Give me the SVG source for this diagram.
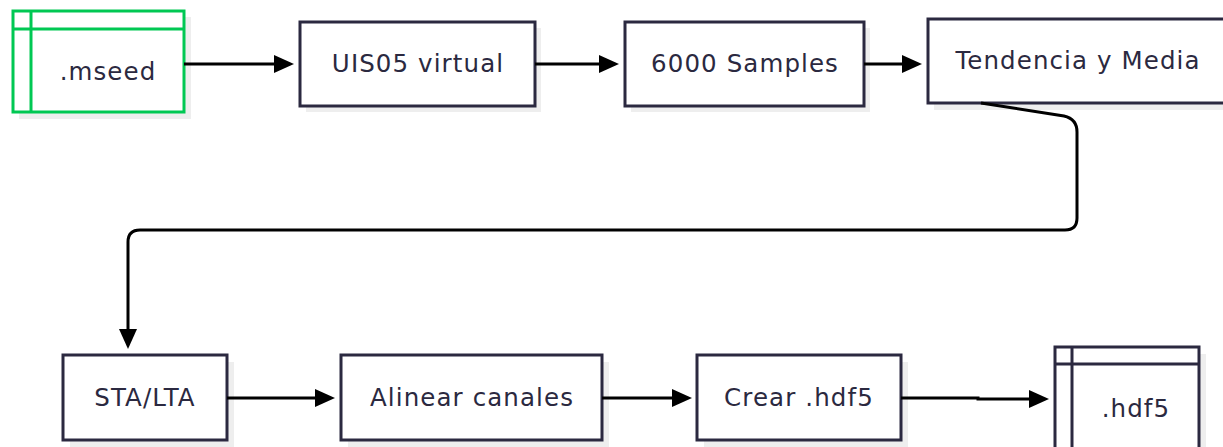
<svg xmlns="http://www.w3.org/2000/svg" width="1223" height="447" viewBox="0 0 1223 447">
<defs>
<style>
.box{fill:#fff;stroke:#2b2940;stroke-width:3}
.db{fill:#fff;stroke:#2b2940;stroke-width:3}
.green{stroke:#00c853}
.sh{fill:#eeeeee}
.t{font-family:"DejaVu Sans",sans-serif;font-size:24.5px;letter-spacing:1.1px;fill:#2b2940;text-anchor:middle;dominant-baseline:central}
.c{fill:none;stroke:#000;stroke-width:3}
</style>
<marker id="arr" viewBox="0 0 20 20" refX="0" refY="10" markerWidth="20" markerHeight="20" orient="auto" markerUnits="userSpaceOnUse">
<path d="M0,1 L20,10 L0,19 z" fill="#000"/>
</marker>
</defs>
<g id="n-mseed">
<rect class="sh" x="19" y="17" width="172" height="102"/>
<rect class="db green" x="13" y="11" width="171" height="101"/>
<line class="green" x1="13" y1="29" x2="184" y2="29" stroke-width="3"/>
<line class="green" x1="31" y1="11" x2="31" y2="112" stroke-width="3"/>
<text class="t" x="108" y="71">.mseed</text>
</g>
<g id="n-uis05">
<rect class="sh" x="306" y="28" width="235" height="84"/>
<rect class="box" x="300" y="22" width="235" height="84"/>
<text class="t" x="418" y="63">UIS05 virtual</text>
</g>
<g id="n-samples">
<rect class="sh" x="631" y="28" width="239" height="84"/>
<rect class="box" x="625" y="22" width="239" height="84"/>
<text class="t" x="745" y="63">6000 Samples</text>
</g>
<g id="n-tendencia">
<rect class="sh" x="934" y="26" width="300" height="84"/>
<rect class="box" x="928" y="19" width="300" height="84"/>
<text class="t" x="1078" y="60">Tendencia y Media</text>
</g>
<g id="n-stalta">
<rect class="sh" x="70" y="362" width="164" height="85"/>
<rect class="box" x="63" y="355" width="164" height="85"/>
<text class="t" x="145" y="397">STA/LTA</text>
</g>
<g id="n-alinear">
<rect class="sh" x="348" y="362" width="261" height="85"/>
<rect class="box" x="341" y="355" width="261" height="85"/>
<text class="t" x="472" y="397">Alinear canales</text>
</g>
<g id="n-crear">
<rect class="sh" x="704" y="362" width="204" height="85"/>
<rect class="box" x="697" y="355" width="204" height="85"/>
<text class="t" x="799" y="397">Crear .hdf5</text>
</g>
<g id="n-hdf5">
<rect class="sh" x="1062" y="354" width="144" height="100"/>
<rect class="db" x="1055" y="347" width="144" height="110"/>
<line x1="1055" y1="364" x2="1199" y2="364" stroke="#2b2940" stroke-width="3"/>
<line x1="1072" y1="347" x2="1072" y2="457" stroke="#2b2940" stroke-width="3"/>
<text class="t" x="1136" y="408">.hdf5</text>
</g>
<g id="connectors">
<path class="c" d="M184,64 L274,64" marker-end="url(#arr)"/>
<path class="c" d="M535,64 L599,64" marker-end="url(#arr)"/>
<path class="c" d="M864,64 L902,64" marker-end="url(#arr)"/>
<path class="c" d="M981,103 L1064,116 Q1077,119 1077,132 L1077,218 Q1077,230 1065,230 L140,230 Q128,230 128,242 L128,329" marker-end="url(#arr)"/>
<path class="c" d="M227,398 L315,398" marker-end="url(#arr)"/>
<path class="c" d="M602,398 L672,398" marker-end="url(#arr)"/>
<path class="c" d="M901,398 L978,398 L978,399 L1029,399" marker-end="url(#arr)"/>
</g>
</svg>
